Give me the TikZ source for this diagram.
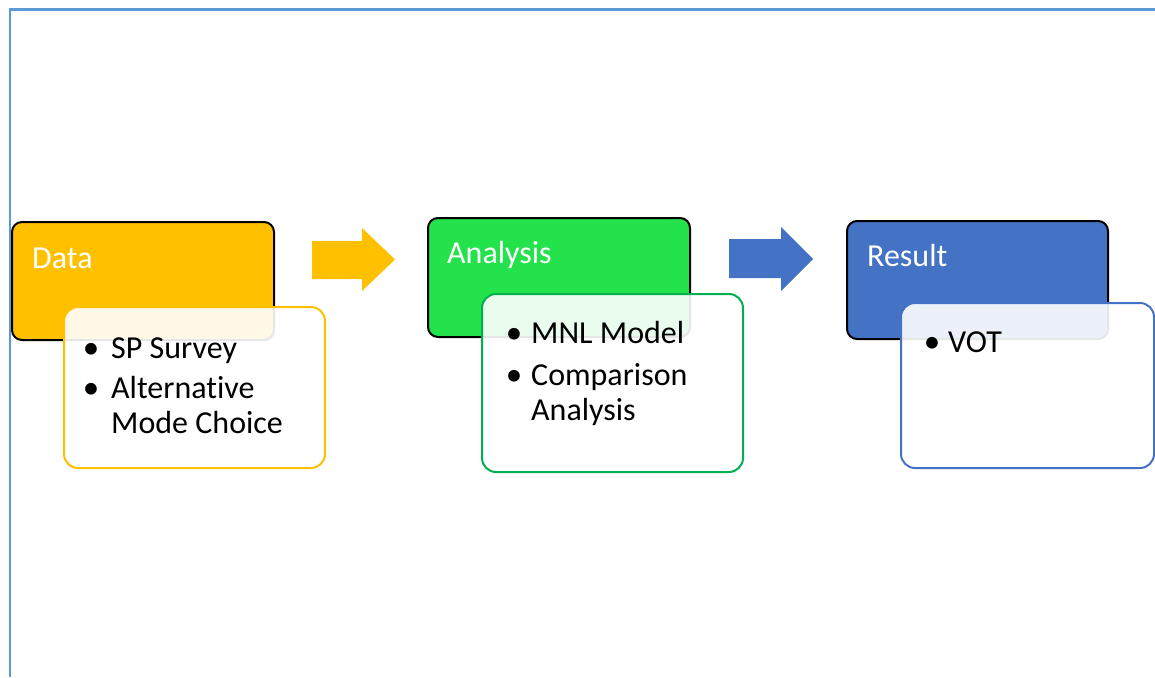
\documentclass[tikz,border=0pt]{standalone}
\usepackage{fontspec}
\setmainfont[Ligatures=NoCommon]{Carlito}
\definecolor{dataorange}{HTML}{FFC000}
\definecolor{anagreen}{HTML}{24E24C}
\definecolor{anaedge}{HTML}{00B050}
\definecolor{resblue}{HTML}{4472C4}
\definecolor{framecol}{HTML}{5B9BD5}
\tikzset{
  header/.style={draw=black, line width=2pt, rounded corners=10pt},
  detail/.style={line width=2pt, rounded corners=14pt, fill=white, fill opacity=0.9},
  title/.style={anchor=base west, inner sep=0pt, text=white, font=\fontsize{32}{38}\selectfont},
  item/.style={anchor=base west, inner sep=0pt, text=black, font=\fontsize{32}{38}\selectfont},
  dot/.style={anchor=base, inner sep=0pt, text=black, font=\fontsize{33}{38}\selectfont},
}
\begin{document}
\begin{tikzpicture}[x=1pt,y=-1pt]
\useasboundingbox (0,0) rectangle (1155,677);
% frame edges
\draw[framecol, line width=2.2pt] (10,677) -- (10,9.5) -- (1156,9.5);

% --- Data stage ---
\draw[header, fill=dataorange] (12,222) rectangle (274,340);
\draw[detail, draw=dataorange] (64,307) rectangle (325,468);
\node[title] (datat) at (32,268) {Data};
\node[dot] (db1) at (91,358) {\textbullet};
\node[item] (di1) at (111,358) {SP Survey};
\node[dot] (db2) at (91,398) {\textbullet};
\node[item] (di2) at (111,398) {Alternative};
\node[item] (di3) at (111,433) {Mode Choice};

% --- Analysis stage ---
\draw[header, fill=anagreen] (428,218) rectangle (690,337);
\draw[detail, draw=anaedge] (482,294) rectangle (743,472);
\node[title] (anat) at (447,263) {Analysis};
\node[dot] (ab1) at (514,343) {\textbullet};
\node[item] (ai1) at (531,343) {MNL Model};
\node[dot] (ab2) at (514,385) {\textbullet};
\node[item] (ai2) at (531,385) {Comparison};
\node[item] (ai3) at (531,420) {Analysis};

% --- Result stage ---
\draw[header, fill=resblue] (847,221) rectangle (1108,339);
\draw[detail, draw=resblue] (901,303) rectangle (1154,468);
\node[title] (rest) at (867,266) {Result};
\node[dot] (rb1) at (932,352) {\textbullet};
\node[item] (ri1) at (948,352) {VOT};

% --- block arrows between stages ---
\fill[dataorange] (312,241) -- (362,241) -- (362,228) -- (395,259.5) -- (362,291) -- (362,279) -- (312,279) -- cycle;
\fill[resblue] (729,239) -- (781,239) -- (781,227) -- (813,259) -- (781,291) -- (781,278) -- (729,278) -- cycle;
\end{tikzpicture}
\end{document}
